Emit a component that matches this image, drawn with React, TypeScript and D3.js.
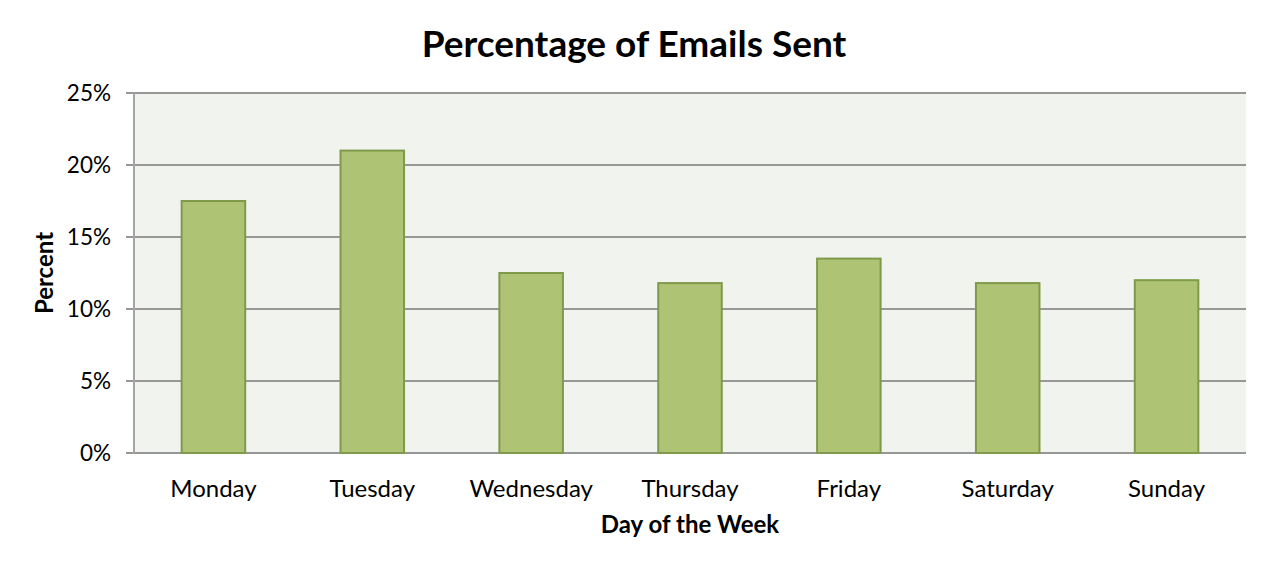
import React, { useEffect, useRef } from "react";
import * as d3 from "d3";

const categories = ["Monday", "Tuesday", "Wednesday", "Thursday", "Friday", "Saturday", "Sunday"];
const percentValues = [17.5, 21.0, 12.5, 11.8, 13.5, 11.8, 12.0];
const yTicks = [0, 5, 10, 15, 20, 25];

const FONT = "Lato, 'Open Sans', sans-serif";

export default function App() {
  const ref = useRef<SVGSVGElement>(null);

  useEffect(() => {
    const svg = d3.select(ref.current);
    svg.selectAll("*").remove();
    const W = 1268, H = 564;
    const left = 134, right = 1246, top = 93, bottom = 453;

    const x = d3.scaleBand<string>().domain(categories).range([left, right]).paddingInner(0.6).paddingOuter(0.3);
    const y = d3.scaleLinear().domain([0, 25]).range([bottom, top]);

    svg.attr("width", W).attr("height", H);
    svg.append("rect").attr("x", 0).attr("y", 0).attr("width", W).attr("height", H).attr("fill", "#fff");

    svg.append("rect").attr("x", left).attr("y", top).attr("width", right - left).attr("height", bottom - top).attr("fill", "#F1F3EE");

    // gridlines
    svg.append("g").selectAll("line").data(yTicks).join("line")
      .attr("x1", left - 8).attr("x2", right)
      .attr("y1", d => y(d)).attr("y2", d => y(d))
      .attr("stroke", "#979797").attr("stroke-width", 2);

    // y axis line
    svg.append("line").attr("x1", left).attr("x2", left).attr("y1", top).attr("y2", bottom)
      .attr("stroke", "#A5A5A5").attr("stroke-width", 2);

    // tick labels
    svg.append("g").selectAll("text").data(yTicks).join("text")
      .attr("x", 111).attr("y", d => y(d)).attr("dy", "0.36em")
      .attr("text-anchor", "end").attr("font-family", FONT).attr("font-size", 22.5).attr("fill", "#000")
      .text(d => `${d}%`);

    // bars
    svg.append("g").selectAll("rect").data(percentValues).join("rect")
      .attr("x", (_, i) => x(categories[i])!)
      .attr("width", x.bandwidth())
      .attr("y", d => y(d))
      .attr("height", d => bottom - y(d))
      .attr("fill", "#AEC373").attr("stroke", "#7F9A4A").attr("stroke-width", 2);

    // category labels
    svg.append("g").selectAll("text").data(categories).join("text")
      .attr("x", d => x(d)! + x.bandwidth() / 2).attr("y", 497)
      .attr("text-anchor", "middle").attr("font-family", FONT).attr("font-size", 24).attr("fill", "#000")
      .text(d => d);

    svg.append("text").attr("x", 690).attr("y", 533).attr("text-anchor", "middle")
      .attr("font-family", FONT).attr("font-weight", "bold").attr("font-size", 24).text("Day of the Week");

    svg.append("text").attr("transform", "translate(53,273) rotate(-90)").attr("text-anchor", "middle")
      .attr("font-family", FONT).attr("font-weight", "bold").attr("font-size", 24).text("Percent");

    svg.append("text").attr("x", 634).attr("y", 57).attr("text-anchor", "middle")
      .attr("font-family", FONT).attr("font-weight", "bold").attr("font-size", 37).text("Percentage of Emails Sent");
  }, []);

  return <svg ref={ref} style={{ display: "block", position: "absolute", left: 0, top: 0 }} />;
}
